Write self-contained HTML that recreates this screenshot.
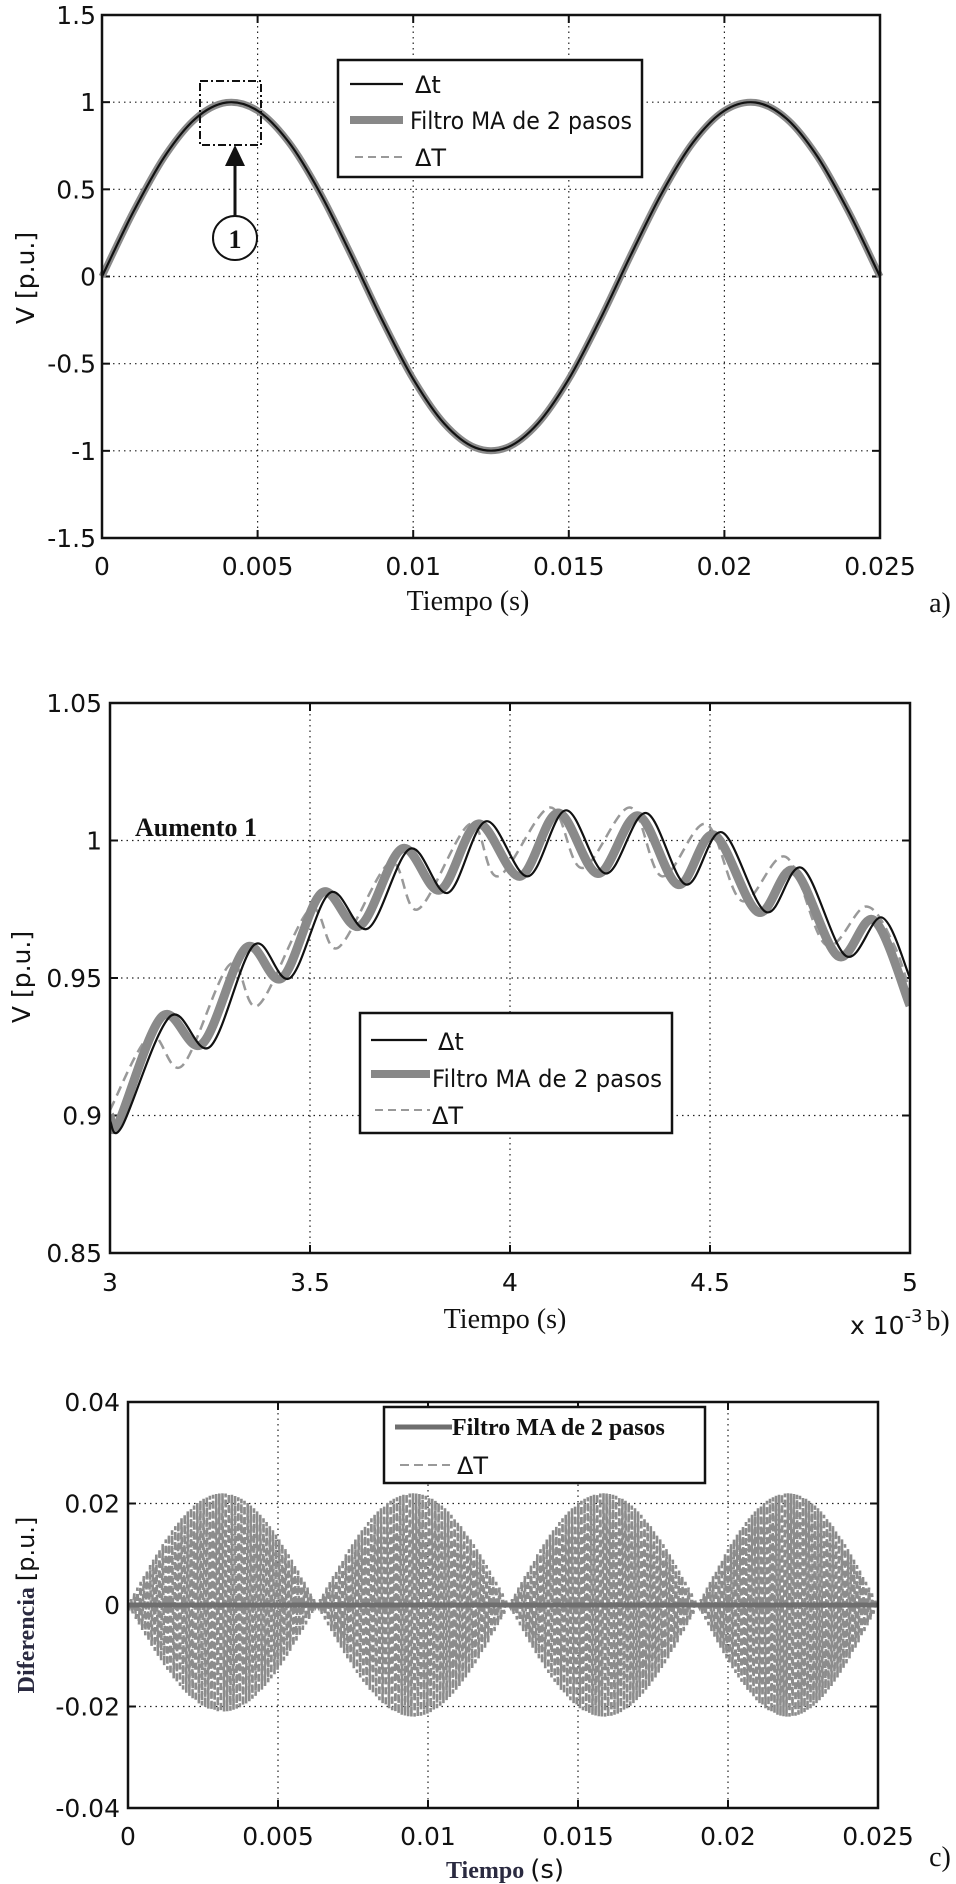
<!DOCTYPE html>
<html><head><meta charset="utf-8"><style>
html,body{margin:0;padding:0;background:#fff;}
svg{display:block;}
.tick{font-family:"DejaVu Sans","Liberation Sans",sans-serif;font-size:25px;fill:#111;}
.ser{font-family:"Liberation Serif",serif;fill:#111;}
.leg{font-family:"DejaVu Sans","Liberation Sans",sans-serif;font-size:24px;fill:#111;}
</style></head><body>
<svg id="fig" width="956" height="1884" viewBox="0 0 956 1884" xmlns="http://www.w3.org/2000/svg">
<g id="pa"></g>
<g id="pb"></g>
<g id="pc"></g>

<text class="ser" x="940" y="612" font-size="28" text-anchor="middle">a)</text>
<text class="ser" x="938" y="1330" font-size="28" text-anchor="middle">b)</text>
<text class="ser" x="940" y="1866" font-size="28" text-anchor="middle">c)</text>
<text class="tick" x="850" y="1334" font-size="25">x 10<tspan dy="-12" font-size="18">-3</tspan></text>
<text class="ser" x="135" y="836" font-size="26" font-weight="bold">Aumento 1</text>

<g>
<rect x="200" y="81" width="61" height="64" fill="none" stroke="#111" stroke-width="2" stroke-dasharray="8,3,2,3"/>
<line x1="235" y1="216" x2="235" y2="162" stroke="#111" stroke-width="3"/>
<polygon points="235,145 225,166 245,166" fill="#111"/>
<circle cx="235" cy="238" r="22" fill="#fff" stroke="#111" stroke-width="2"/>
<text class="ser" x="235" y="248" font-size="26" font-weight="bold" text-anchor="middle">1</text>
</g>
</svg>
<script>
// ---------- Panel A data ----------
var aTime = [0,0.001,0.002,0.003,0.004,0.005,0.006,0.007,0.008,0.009,0.010,0.011,0.012,0.013,0.014,0.015,0.016,0.017,0.018,0.019,0.020,0.021,0.022,0.023,0.024,0.025];
var aVolt = [0,0.368,0.685,0.905,0.998,0.951,0.771,0.482,0.125,-0.249,-0.588,-0.844,-0.982,-0.982,-0.844,-0.588,-0.249,0.125,0.482,0.771,0.951,0.998,0.905,0.685,0.368,0];
var aXTicks = [0,0.005,0.01,0.015,0.02,0.025];
var aXLabels = ["0","0.005","0.01","0.015","0.02","0.025"];
var aYTicks = [1.5,1,0.5,0,-0.5,-1,-1.5];
var aYLabels = ["1.5","1","0.5","0","-0.5","-1","-1.5"];

// ---------- Panel B data (time in ms) ----------
var bTimeDt = [3.00,3.03,3.15,3.25,3.36,3.45,3.55,3.645,3.75,3.845,3.94,4.045,4.14,4.24,4.34,4.44,4.53,4.64,4.73,4.84,4.93,5.00];
var bVoltDt = [0.898,0.896,0.936,0.925,0.962,0.950,0.981,0.968,0.997,0.981,1.007,0.987,1.011,0.988,1.010,0.984,1.003,0.974,0.990,0.958,0.972,0.950];
var bTimeMA = [3.00,3.02,3.13,3.23,3.34,3.43,3.53,3.625,3.73,3.825,3.92,4.025,4.12,4.22,4.32,4.42,4.51,4.62,4.71,4.82,4.91,5.00];
var bVoltMA = [0.900,0.897,0.936,0.926,0.961,0.950,0.981,0.969,0.997,0.982,1.006,0.987,1.010,0.988,1.009,0.984,1.002,0.974,0.989,0.958,0.971,0.940];
var bTimeDT = [3.00,3.10,3.18,3.30,3.37,3.50,3.57,3.70,3.77,3.90,3.97,4.10,4.18,4.30,4.38,4.49,4.58,4.69,4.79,4.89,4.96,5.00];
var bVoltDT = [0.902,0.929,0.918,0.955,0.940,0.975,0.961,0.992,0.975,1.006,0.987,1.012,0.990,1.012,0.987,1.006,0.978,0.994,0.962,0.976,0.962,0.945];
var bXTicks = [3,3.5,4,4.5,5];
var bXLabels = ["3","3.5","4","4.5","5"];
var bYTicks = [1.05,1,0.95,0.9,0.85];
var bYLabels = ["1.05","1","0.95","0.9","0.85"];

// ---------- Panel C data ----------
var cLobeStart = [0,0.0063,0.0127,0.019];
var cLobeEnd = [0.0063,0.0127,0.019,0.025];
var cLobeAmpPos = [0.022,0.022,0.022,0.022];
var cLobeAmpNeg = [-0.021,-0.022,-0.022,-0.022];
var cMATime = [0,0.025];
var cMAVal = [0,0];
var cXTicks = [0,0.005,0.01,0.015,0.02,0.025];
var cXLabels = ["0","0.005","0.01","0.015","0.02","0.025"];
var cYTicks = [0.04,0.02,0,-0.02,-0.04];
var cYLabels = ["0.04","0.02","0","-0.02","-0.04"];

var NS = "http://www.w3.org/2000/svg";
function mk(parent, tag, attrs){
  var e = document.createElementNS(NS, tag);
  for (var k in attrs) e.setAttribute(k, attrs[k]);
  parent.appendChild(e);
  return e;
}
function lin(d0,d1,r0,r1){ return function(v){ return r0 + (v-d0)/(d1-d0)*(r1-r0); }; }
function smoothPath(pts){
  var d = "M"+pts[0][0].toFixed(1)+","+pts[0][1].toFixed(1);
  for (var i=0;i<pts.length-1;i++){
    var p0=pts[Math.max(i-1,0)], p1=pts[i], p2=pts[i+1], p3=pts[Math.min(i+2,pts.length-1)];
    var c1x=p1[0]+(p2[0]-p0[0])/6, c1y=p1[1]+(p2[1]-p0[1])/6;
    var c2x=p2[0]-(p3[0]-p1[0])/6, c2y=p2[1]-(p3[1]-p1[1])/6;
    d += " C"+c1x.toFixed(1)+","+c1y.toFixed(1)+" "+c2x.toFixed(1)+","+c2y.toFixed(1)+" "+p2[0].toFixed(1)+","+p2[1].toFixed(1);
  }
  return d;
}

function axes(g, box, xs, ys, xT, xL, yT, yL, xLabY, yLabX){
  var i, e;
  for (i=0;i<xT.length;i++){
    var x = xs(xT[i]);
    if (i>0 && i<xT.length-1){
      e = mk(g,"line",{x1:x,y1:box.t,x2:x,y2:box.b,stroke:"#222","stroke-width":1.2,"stroke-dasharray":"1.5,4"});
      
      
    }
    e = mk(g,"line",{x1:x,y1:box.b,x2:x,y2:box.b-8,stroke:"#111","stroke-width":2});
    
    
    e = mk(g,"line",{x1:x,y1:box.t,x2:x,y2:box.t+8,stroke:"#111","stroke-width":2});
    
    
    e = mk(g,"text",{x:x,y:xLabY,"class":"tick","text-anchor":"middle"});
    e.textContent = xL[i];
    
    
  }
  for (i=0;i<yT.length;i++){
    var y = ys(yT[i]);
    if (i>0 && i<yT.length-1){
      e = mk(g,"line",{x1:box.l,y1:y,x2:box.r,y2:y,stroke:"#222","stroke-width":1.2,"stroke-dasharray":"1.5,4"});
      
      
    }
    e = mk(g,"line",{x1:box.l,y1:y,x2:box.l+8,y2:y,stroke:"#111","stroke-width":2});
    
    
    e = mk(g,"line",{x1:box.r,y1:y,x2:box.r-8,y2:y,stroke:"#111","stroke-width":2});
    
    
    e = mk(g,"text",{x:yLabX,y:y+9,"class":"tick","text-anchor":"end"});
    e.textContent = yL[i];
    
    
  }
}
function frame(g, box){
  var e = mk(g,"rect",{x:box.l,y:box.t,width:box.r-box.l,height:box.b-box.t,fill:"none",stroke:"#111","stroke-width":2.5});
  
  
}
function series(g, xs, ys, T, V, attrs, name){
  var pts=[]; for (var i=0;i<T.length;i++) pts.push([xs(T[i]), ys(V[i])]);
  attrs.d = smoothPath(pts); attrs.fill = "none";
  var e = mk(g,"path",attrs);
  
  
  return e;
}
function txt(g, x, y, s, cls, extra, name){
  var a = {x:x,y:y}; if (cls) a["class"]=cls;
  for (var k in extra) a[k]=extra[k];
  var e = mk(g,"text",a); e.textContent = s;
  
  
  return e;
}

// ---------- Panel A ----------
(function(){
  var g = document.getElementById("pa");
  var box = {l:102,r:880,t:15,b:538};
  var xs = lin(0,0.025,box.l,box.r), ys = lin(-1.5,1.5,box.b,box.t);
  axes(g, box, xs, ys, aXTicks, aXLabels, aYTicks, aYLabels, 575, 96);
  series(g, xs, ys, aTime, aVolt, {stroke:"#8a8a8a","stroke-width":7}, "series-ma-filter");
  series(g, xs, ys, aTime, aVolt, {stroke:"#aaa","stroke-width":2,"stroke-dasharray":"6,4"}, "series-big-dt");
  series(g, xs, ys, aTime, aVolt, {stroke:"#111","stroke-width":2.2}, "series-small-dt");
  frame(g, box);
  var lg = mk(g,"g",{});  
  var e = mk(lg,"rect",{x:338,y:60,width:304,height:117,fill:"#fff",stroke:"#111","stroke-width":2.5});
   
  e = mk(lg,"line",{x1:350,y1:84,x2:403,y2:84,stroke:"#111","stroke-width":2.2});  
  e = mk(lg,"line",{x1:350,y1:120,x2:403,y2:120,stroke:"#888","stroke-width":8});  
  e = mk(lg,"line",{x1:355,y1:157,x2:403,y2:157,stroke:"#999","stroke-width":2,"stroke-dasharray":"8,5"});  
  txt(lg, 415, 93, "\u0394t", "leg", {}, "legend-label-small-dt");
  txt(lg, 410, 129, "Filtro MA de 2 pasos", "leg", {textLength:222,lengthAdjust:"spacingAndGlyphs"}, "legend-label-ma");
  txt(lg, 415, 166, "\u0394T", "leg", {}, "legend-label-big-dt");
  txt(g, 34, 278, "V [p.u.]", "tick", {"text-anchor":"middle",transform:"rotate(-90 34 278)"}, "y-axis-title-a");
  txt(g, 468, 610, "Tiempo  (s)", "ser", {"font-size":28,"text-anchor":"middle"}, "x-axis-title-a");
})();

// ---------- Panel B ----------
(function(){
  var g = document.getElementById("pb");
  var box = {l:110,r:910,t:703,b:1253};
  var xs = lin(3,5,box.l,box.r), ys = lin(0.85,1.05,box.b,box.t);
  axes(g, box, xs, ys, bXTicks, bXLabels, bYTicks, bYLabels, 1291, 102);
  var cl = mk(g,"clipPath",{id:"clipb"}); mk(cl,"rect",{x:box.l,y:box.t,width:box.r-box.l,height:box.b-box.t});
  var sg = mk(g,"g",{"clip-path":"url(#clipb)"});  
  series(sg, xs, ys, bTimeDT, bVoltDT, {stroke:"#999","stroke-width":2.5,"stroke-dasharray":"10,6"}, "series-big-dt");
  series(sg, xs, ys, bTimeMA, bVoltMA, {stroke:"#8a8a8a","stroke-width":9}, "series-ma-filter");
  series(sg, xs, ys, bTimeDt, bVoltDt, {stroke:"#111","stroke-width":2.2}, "series-small-dt");
  frame(g, box);
  var lg = mk(g,"g",{});  
  var e = mk(lg,"rect",{x:360,y:1013,width:312,height:120,fill:"#fff",stroke:"#111","stroke-width":2.5});
   
  e = mk(lg,"line",{x1:371,y1:1040,x2:427,y2:1040,stroke:"#111","stroke-width":2.2});  
  e = mk(lg,"line",{x1:371,y1:1074,x2:430,y2:1074,stroke:"#888","stroke-width":8});  
  e = mk(lg,"line",{x1:375,y1:1110,x2:430,y2:1110,stroke:"#999","stroke-width":2,"stroke-dasharray":"8,5"});  
  txt(lg, 438, 1050, "\u0394t", "leg", {}, "legend-label-small-dt");
  txt(lg, 432, 1087, "Filtro MA de 2 pasos", "leg", {textLength:230,lengthAdjust:"spacingAndGlyphs"}, "legend-label-ma");
  txt(lg, 432, 1124, "\u0394T", "leg", {}, "legend-label-big-dt");
  txt(g, 30, 977, "V [p.u.]", "tick", {"text-anchor":"middle",transform:"rotate(-90 30 977)"}, "y-axis-title-b");
  txt(g, 505, 1328, "Tiempo  (s)", "ser", {"font-size":28,"text-anchor":"middle"}, "x-axis-title-b");
})();

// ---------- Panel C ----------
(function(){
  var g = document.getElementById("pc");
  var box = {l:128,r:878,t:1402,b:1808};
  var xs = lin(0,0.025,box.l,box.r), ys = lin(-0.04,0.04,box.b,box.t);
  axes(g, box, xs, ys, cXTicks, cXLabels, cYTicks, cYLabels, 1845, 120);
  for (var L=0; L<cLobeStart.length; L++){
    var pts = "", n = 120;
    for (var k=0;k<=n;k++){
      var t = cLobeStart[L] + (cLobeEnd[L]-cLobeStart[L])*k/n;
      var env = Math.sin(Math.PI*k/n);
      var v = (k%2===0) ? cLobeAmpPos[L]*env : cLobeAmpNeg[L]*env;
      pts += xs(t).toFixed(1)+","+ys(v).toFixed(1)+" ";
    }
    var e = mk(g,"polyline",{points:pts,fill:"none",stroke:"#8c8c8c","stroke-width":2.6,"stroke-dasharray":"7,3"});
    
    
  }
  var ma = mk(g,"line",{x1:xs(cMATime[0]),y1:ys(cMAVal[0]),x2:xs(cMATime[1]),y2:ys(cMAVal[1]),stroke:"#6e6e6e","stroke-width":5});
  
  
  frame(g, box);
  var lg = mk(g,"g",{});  
  var e2 = mk(lg,"rect",{x:384,y:1407,width:321,height:76,fill:"#fff",stroke:"#111","stroke-width":2.5});
   
  e2 = mk(lg,"line",{x1:395,y1:1427,x2:452,y2:1427,stroke:"#6e6e6e","stroke-width":5});  
  e2 = mk(lg,"line",{x1:400,y1:1465,x2:450,y2:1465,stroke:"#999","stroke-width":2,"stroke-dasharray":"9,5"});  
  txt(lg, 452, 1435, "Filtro MA de 2 pasos", "ser", {"font-size":24,"font-weight":"bold",fill:"#2a2a3a"}, "legend-label-ma");
  txt(lg, 457, 1474, "\u0394T", "leg", {"font-size":24}, "legend-label-big-dt");
  var yt = txt(g, 34, 1605, "", null, {"text-anchor":"middle",transform:"rotate(-90 34 1605)"}, "y-axis-title-c");
  var s1 = mk(yt,"tspan",{"font-family":"Liberation Serif, serif","font-weight":"bold","font-size":24,fill:"#2a2a40"}); s1.textContent="Diferencia  ";
  var s2 = mk(yt,"tspan",{"font-family":"DejaVu Sans, sans-serif","font-size":24,fill:"#111"}); s2.textContent="[p.u.]";
  var xt = txt(g, 505, 1878, "", null, {"text-anchor":"middle"}, "x-axis-title-c");
  var s3 = mk(xt,"tspan",{"font-family":"Liberation Serif, serif","font-weight":"bold","font-size":24,fill:"#2a2a40"}); s3.textContent="Tiempo ";
  var s4 = mk(xt,"tspan",{"font-family":"DejaVu Sans, sans-serif","font-size":26,fill:"#111"}); s4.textContent="(s)";
})();
</script>
</body></html>
